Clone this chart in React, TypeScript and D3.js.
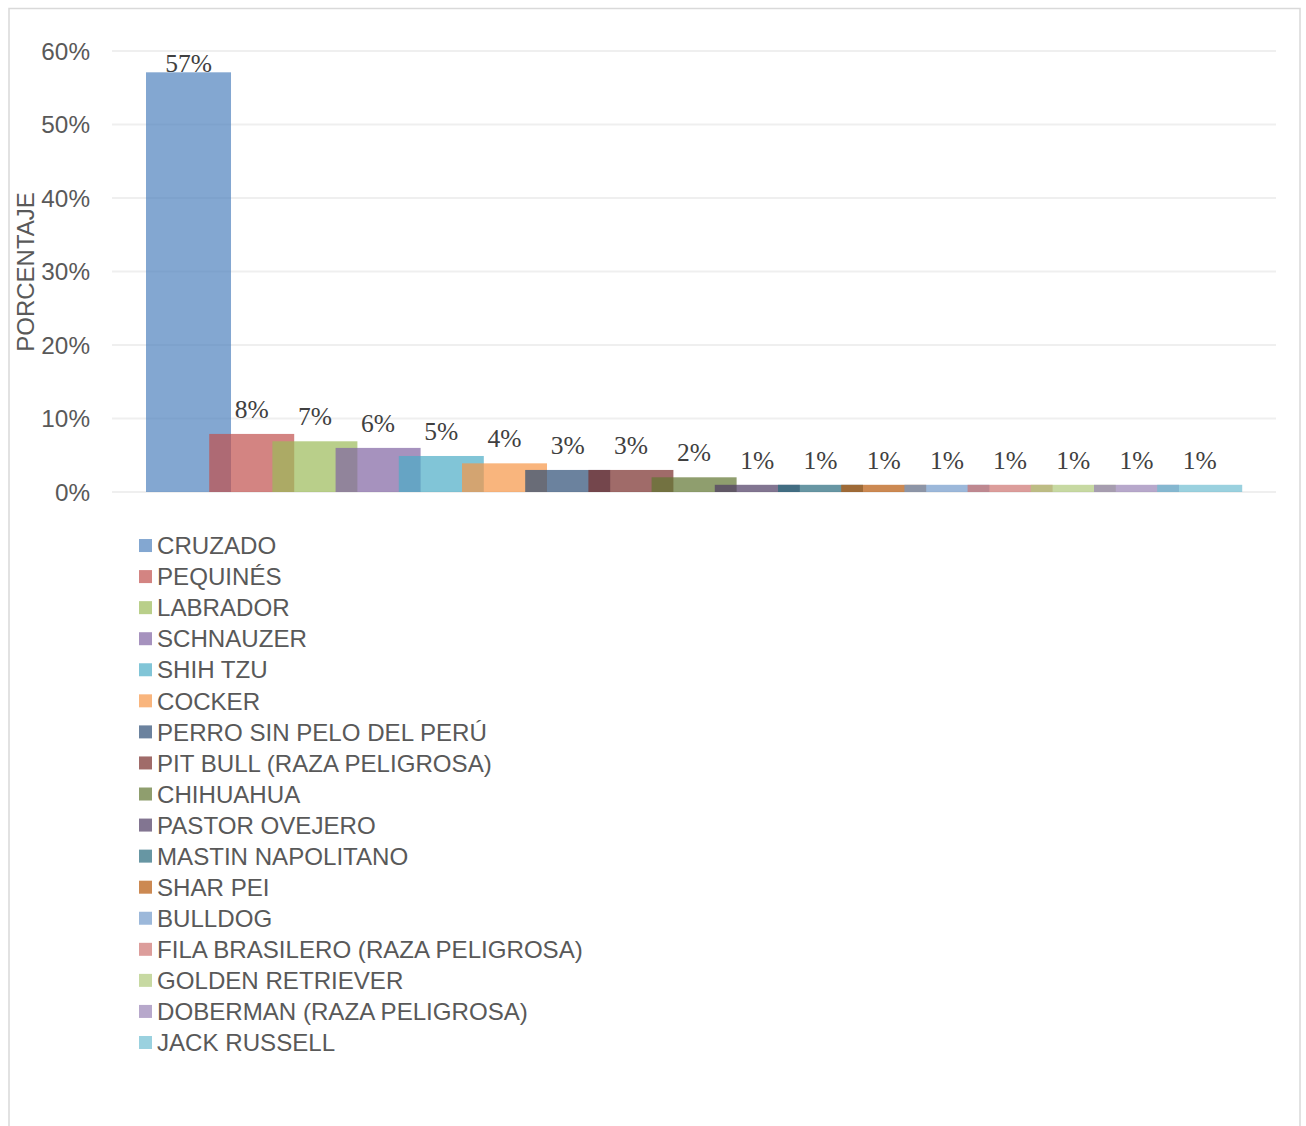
import React, { useEffect, useRef } from 'react';
import * as d3 from 'd3';

// razas y porcentajes
const breeds = [
  'CRUZADO', 'PEQUINÉS', 'LABRADOR', 'SCHNAUZER', 'SHIH TZU', 'COCKER',
  'PERRO SIN PELO DEL PERÚ', 'PIT BULL (RAZA PELIGROSA)', 'CHIHUAHUA',
  'PASTOR OVEJERO', 'MASTIN NAPOLITANO', 'SHAR PEI', 'BULLDOG',
  'FILA BRASILERO (RAZA PELIGROSA)', 'GOLDEN RETRIEVER',
  'DOBERMAN (RAZA PELIGROSA)', 'JACK RUSSELL',
];
const values = [
  0.571, 0.079, 0.069, 0.06, 0.049, 0.039, 0.03, 0.03, 0.02,
  0.0098, 0.0098, 0.0098, 0.0098, 0.0098, 0.0098, 0.0098, 0.0098,
];
const colors = [
  '#4F81BD', '#C0504D', '#9BBB59', '#8064A2', '#4BACC6', '#F79646',
  '#2C4D75', '#772C2A', '#5F7530', '#4D3B62', '#276A7C', '#B65708',
  '#729ACA', '#CD7371', '#AFC97A', '#9983B5', '#6FBDD1',
];
const yTicks = [0, 0.1, 0.2, 0.3, 0.4, 0.5, 0.6];

const W = 1306;
const H = 1126;
const sans = 'Liberation Sans, Arial, sans-serif';
const serif = 'Liberation Serif, Cambria, serif';

export default function App() {
  const ref = useRef<SVGSVGElement>(null);

  useEffect(() => {
    document.body.style.margin = '0';
    const svg = d3.select(ref.current);
    svg.selectAll('*').remove();

    // marco
    svg.append('rect')
      .attr('x', 9).attr('y', 8.5)
      .attr('width', 1291).attr('height', 1200)
      .attr('fill', '#fff')
      .attr('stroke', '#D9D9D9').attr('stroke-width', 1.5);

    const y = d3.scaleLinear().domain([0, 0.6]).range([492, 51]);
    const step = 63.2;
    const x = d3.scaleBand<string>()
      .domain(breeds)
      .range([146, 146 + breeds.length * step])
      .paddingInner(0).paddingOuter(0);
    const barW = x.step() * 1.345;

    // rejilla
    svg.append('g')
      .selectAll('line')
      .data(yTicks)
      .join('line')
      .attr('x1', 112).attr('x2', 1276)
      .attr('y1', d => y(d)).attr('y2', d => y(d))
      .attr('stroke', '#EFEFEF').attr('stroke-width', 2);

    // etiquetas eje y
    svg.append('g')
      .selectAll('text')
      .data(yTicks)
      .join('text')
      .attr('x', 90)
      .attr('y', d => y(d))
      .attr('dy', '0.36em')
      .attr('text-anchor', 'end')
      .attr('font-family', sans)
      .attr('font-size', 24.3)
      .attr('fill', '#595959')
      .text(d => d3.format('.0%')(d));

    svg.append('text')
      .attr('transform', 'translate(34,272) rotate(-90)')
      .attr('text-anchor', 'middle')
      .attr('font-family', sans)
      .attr('font-size', 24)
      .attr('fill', '#595959')
      .text('PORCENTAJE');

    const data = breeds.map((b, i) => ({ b, v: values[i], c: colors[i] }));

    // barras (superpuestas, semitransparentes)
    svg.append('g')
      .selectAll('rect')
      .data(data)
      .join('rect')
      .attr('x', d => x(d.b)!)
      .attr('y', d => y(d.v))
      .attr('width', barW)
      .attr('height', d => y(0) - y(d.v))
      .attr('fill', d => d.c)
      .attr('fill-opacity', 0.7);

    // etiquetas de datos
    svg.append('g')
      .selectAll('text')
      .data(data)
      .join('text')
      .attr('x', d => x(d.b)! + barW / 2)
      .attr('y', d => Math.max(y(d.v) - 16, y(0.6) + 21))
      .attr('text-anchor', 'middle')
      .attr('font-family', serif)
      .attr('font-size', 25.5)
      .attr('fill', '#404040')
      .text(d => d3.format('.0%')(d.v));

    // leyenda
    const ly = d3.scaleBand<string>()
      .domain(breeds)
      .range([530, 530 + breeds.length * 31.06]);
    const leg = svg.append('g')
      .selectAll('g')
      .data(data)
      .join('g')
      .attr('transform', d => `translate(139,${ly(d.b)! + ly.bandwidth() / 2})`);
    leg.append('rect')
      .attr('x', 0).attr('y', -6.5)
      .attr('width', 13).attr('height', 13)
      .attr('fill', d => d.c)
      .attr('fill-opacity', 0.7);
    leg.append('text')
      .attr('x', 18)
      .attr('dy', '0.36em')
      .attr('font-family', sans)
      .attr('font-size', 24.1)
      .attr('fill', '#595959')
      .text(d => d.b);
  }, []);

  return <svg ref={ref} width={W} height={H} style={{ display: 'block', background: '#fff' }} />;
}
